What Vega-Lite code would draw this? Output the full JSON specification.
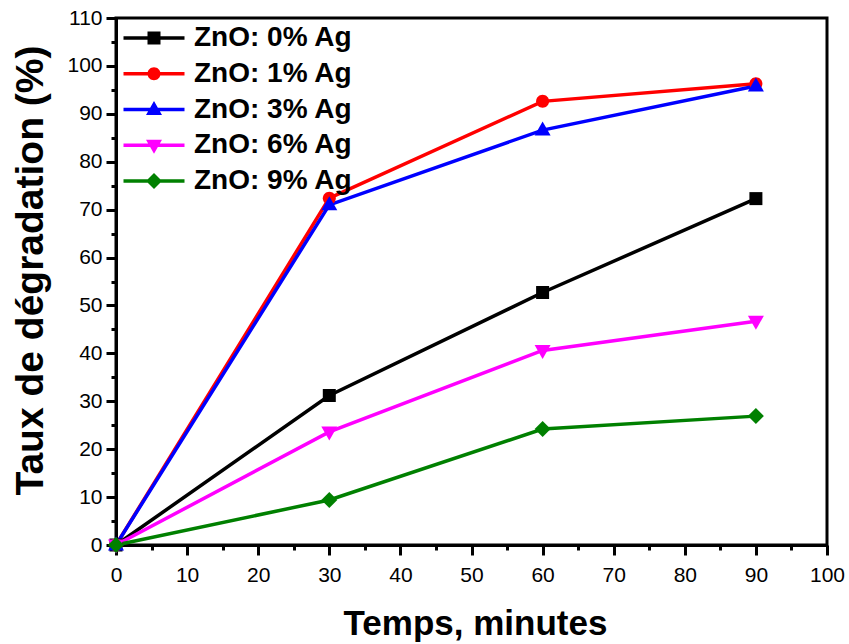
{
  "$schema": "https://vega.github.io/schema/vega-lite/v6.json",
  "width": 711,
  "height": 527,
  "autosize": {"type": "none"},
  "padding": {"left": 116, "top": 18, "right": 22, "bottom": 99},
  "background": "white",
  "config": {
    "font": "Liberation Sans",
    "view": {"stroke": "black", "strokeWidth": 3},
    "axis": {"grid": false, "domainColor": "black", "domainWidth": 3, "tickColor": "black", "tickWidth": 3, "labelColor": "black", "labelFont": "Liberation Sans", "labelFontSize": 21, "titleColor": "black", "titleFont": "Liberation Sans", "titleFontWeight": "bold"}
  },
  "data": {
    "values": [
      {"s": "ZnO: 0% Ag", "t": 0, "y": 0},
      {"s": "ZnO: 0% Ag", "t": 30, "y": 31.2},
      {"s": "ZnO: 0% Ag", "t": 60, "y": 52.7},
      {"s": "ZnO: 0% Ag", "t": 90, "y": 72.3},
      {"s": "ZnO: 1% Ag", "t": 0, "y": 0},
      {"s": "ZnO: 1% Ag", "t": 30, "y": 72.4},
      {"s": "ZnO: 1% Ag", "t": 60, "y": 92.6},
      {"s": "ZnO: 1% Ag", "t": 90, "y": 96.3},
      {"s": "ZnO: 3% Ag", "t": 0, "y": 0},
      {"s": "ZnO: 3% Ag", "t": 30, "y": 71.0},
      {"s": "ZnO: 3% Ag", "t": 60, "y": 86.6},
      {"s": "ZnO: 3% Ag", "t": 90, "y": 95.8},
      {"s": "ZnO: 6% Ag", "t": 0, "y": 0},
      {"s": "ZnO: 6% Ag", "t": 30, "y": 23.6},
      {"s": "ZnO: 6% Ag", "t": 60, "y": 40.6},
      {"s": "ZnO: 6% Ag", "t": 90, "y": 46.7},
      {"s": "ZnO: 9% Ag", "t": 0, "y": 0},
      {"s": "ZnO: 9% Ag", "t": 30, "y": 9.4},
      {"s": "ZnO: 9% Ag", "t": 60, "y": 24.2},
      {"s": "ZnO: 9% Ag", "t": 90, "y": 26.9}
    ]
  },
  "layer": [
    {
      "mark": {"type": "line", "strokeWidth": 3.5, "clip": false},
      "encoding": {
        "x": {"field": "t", "type": "quantitative", "scale": {"domain": [0, 100], "nice": false},
          "axis": {"orient": "bottom", "values": [0,10,20,30,40,50,60,70,80,90,100], "tickSize": 10, "labelPadding": 9, "title": "Temps, minutes", "titleFontSize": 35, "titleX": 359, "titleY": 89, "titleBaseline": "alphabetic", "titleAlign": "center", "labelFlush": false}},
        "y": {"field": "y", "type": "quantitative", "scale": {"domain": [0, 110], "nice": false},
          "axis": {"orient": "left", "values": [0,10,20,30,40,50,60,70,80,90,100,110], "tickSize": 10, "labelPadding": 4, "title": "Taux de dégradation (%)", "titleFontSize": 39, "titleX": -74, "titleY": 252, "titleBaseline": "alphabetic", "titleAlign": "center", "titleAngle": -90, "labelFlush": false}},
        "color": {"field": "s", "type": "nominal", "legend": null,
          "scale": {"domain": ["ZnO: 0% Ag", "ZnO: 1% Ag", "ZnO: 3% Ag", "ZnO: 6% Ag", "ZnO: 9% Ag"], "range": ["#000000", "#ff0000", "#0000ff", "#ff00ff", "#008000"]}},
        "detail": {"field": "s"}
      }
    },
    {
      "mark": {"type": "point", "filled": true, "opacity": 1, "size": 400, "strokeWidth": 0, "clip": false},
      "encoding": {
        "x": {"field": "t", "type": "quantitative",
          "axis": {"orient": "bottom", "values": [5,15,25,35,45,55,65,75,85,95], "tickSize": 5, "labels": false, "domain": false, "title": null}},
        "y": {"field": "y", "type": "quantitative",
          "axis": {"orient": "left", "values": [5,15,25,35,45,55,65,75,85,95,105], "tickSize": 5, "labels": false, "domain": false, "title": null}},
        "color": {"field": "s", "type": "nominal", "legend": null},
        "shape": {"field": "s", "type": "nominal", "legend": null,
          "scale": {"domain": ["ZnO: 0% Ag", "ZnO: 1% Ag", "ZnO: 3% Ag", "ZnO: 6% Ag", "ZnO: 9% Ag"],
            "range": [
              "M-0.65,-0.65H0.65V0.65H-0.65Z",
              "M-0.65,0A0.65,0.65 0 1,1 0.65,0A0.65,0.65 0 1,1 -0.65,0Z",
              "M0,-0.85L0.8,0.55L-0.8,0.55Z",
              "M0,0.85L-0.8,-0.55L0.8,-0.55Z",
              "M0,-0.8L0.8,0L0,0.8L-0.8,0Z"
            ]}}
      }
    },
    {
      "mark": {"type": "point", "filled": true, "opacity": 0, "size": 400, "strokeWidth": 0, "clip": false},
      "encoding": {
        "x": {"field": "t", "type": "quantitative", "axis": null},
        "y": {"field": "y", "type": "quantitative", "axis": null},
        "color": {"field": "s", "type": "nominal", "legend": null},
        "shape": {"field": "s", "type": "nominal",
          "legend": {"orient": "none", "legendX": 24, "legendY": 6, "padding": 0, "title": null, "labelFont": "Liberation Sans", "labelFontWeight": "bold", "labelFontSize": 28, "labelColor": "black", "symbolSize": 400, "labelOffset": 26, "rowPadding": 7.75, "symbolOpacity": 1, "symbolStrokeWidth": 0,
            "symbolFillColor": {"expr": "scale('color', datum.value)"}},
          "scale": {"domain": ["ZnO: 0% Ag", "ZnO: 1% Ag", "ZnO: 3% Ag", "ZnO: 6% Ag", "ZnO: 9% Ag"],
            "range": [
              "M-3.05,-0.17H3.05V0.17H-3.05Z M-0.65,-0.65H0.65V0.65H-0.65Z",
              "M-3.05,-0.17H3.05V0.17H-3.05Z M-0.65,0A0.65,0.65 0 1,1 0.65,0A0.65,0.65 0 1,1 -0.65,0Z",
              "M-3.05,-0.17H3.05V0.17H-3.05Z M0,-0.85L0.8,0.55L-0.8,0.55Z",
              "M-3.05,-0.17H3.05V0.17H-3.05Z M0,0.85L-0.8,-0.55L0.8,-0.55Z",
              "M-3.05,-0.17H3.05V0.17H-3.05Z M0,-0.8L0.8,0L0,0.8L-0.8,0Z"
            ]}}
      }
    }
  ],
  "resolve": {"scale": {"shape": "independent"}, "axis": {"x": "independent", "y": "independent"}}
}
